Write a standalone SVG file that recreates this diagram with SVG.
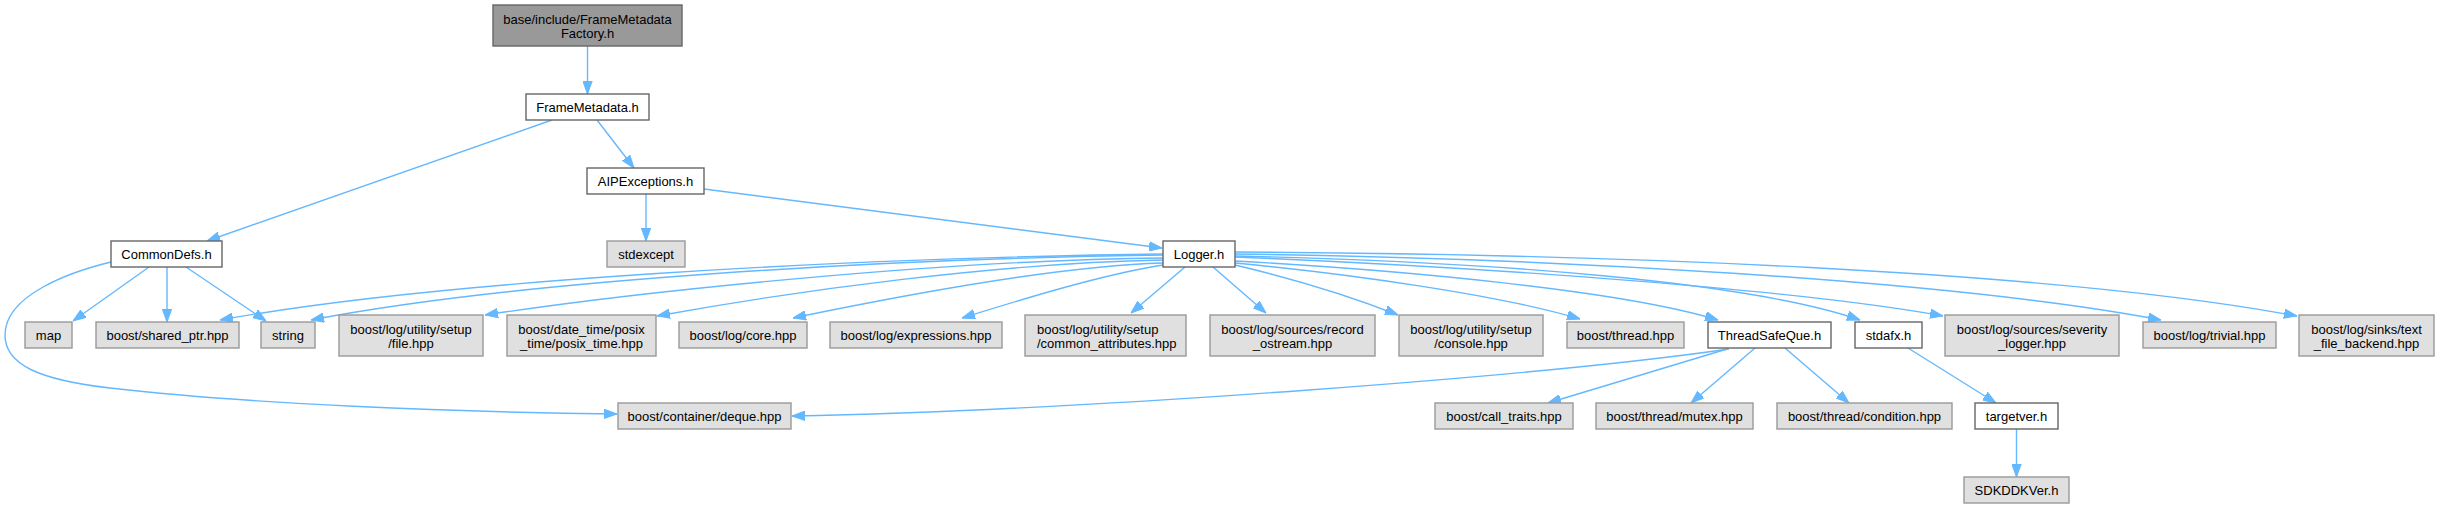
<svg xmlns="http://www.w3.org/2000/svg" width="2440" height="508" viewBox="0 0 2440 508">
<style>
rect{stroke-width:1.4}
.g rect{fill:#e0e0e0;stroke:#999999}
.w rect{fill:#ffffff;stroke:#666666}
.r rect{fill:#999999;stroke:#666666}
text{font-family:"Liberation Sans",Arial,sans-serif;font-size:13px;fill:#000;text-anchor:middle}
text.s{text-anchor:start}
#edges path{fill:none;stroke:#63b8ff;stroke-width:1.4;marker-end:url(#ah)}
</style>
<defs>
<marker id="ah" markerUnits="userSpaceOnUse" viewBox="0 0 13 10" refX="13" refY="5" markerWidth="13" markerHeight="10" orient="auto">
<path d="M0,0.3 L13,5 L0,9.7 z" fill="#63b8ff" stroke="#63b8ff" stroke-width="1"/>
</marker>
</defs>
<rect width="2440" height="508" fill="#ffffff"/>
<g id="edges">
<path d="M587.5,46 L587.5,94"/>
<path d="M597,120 L634,168"/>
<path d="M552,120 L207,241"/>
<path d="M646,194 L646,241"/>
<path d="M704,189 L1162,248"/>
<path d="M149,267 L73,321"/>
<path d="M167,267 L167,322"/>
<path d="M186,267 L266,321"/>
<path d="M111,262 C70,272 5,295 5,335 C5,365 40,380 110,388 C250,404 450,412 617,414"/>
<path d="M1163,254 C850,258 440,280 220,320"/>
<path d="M1163,255 C880,259 520,280 311,320"/>
<path d="M1163,258 C950,260 650,290 485,315"/>
<path d="M1163,260 C1000,263 800,290 657,316"/>
<path d="M1163,263 C1050,266 880,300 793,318"/>
<path d="M1163,265 C1100,275 1020,300 962,318"/>
<path d="M1185,267 L1131,313"/>
<path d="M1213,267 L1266,313"/>
<path d="M1235,265 C1290,278 1350,296 1398,315"/>
<path d="M1235,263 C1350,274 1500,295 1580,319"/>
<path d="M1235,261 C1400,270 1620,290 1718,320"/>
<path d="M1235,256 C1500,262 1750,282 1860,320"/>
<path d="M1235,257 C1500,268 1800,290 1943,316"/>
<path d="M1235,254 C1550,258 1950,280 2161,320"/>
<path d="M1235,252 C1600,254 2050,270 2297,316"/>
<path d="M1729,349 C1550,375 1100,410 792,416"/>
<path d="M1727,349 L1548,403"/>
<path d="M1755,348 L1691,403"/>
<path d="M1785,348 L1849,403"/>
<path d="M1908,348 L1996,403"/>
<path d="M2016.5,429 L2016.5,477"/>
</g>
<g id="n_root" class="r"><rect x="493" y="5" width="189" height="41"/><text x="587.5" y="23.5">base/include/FrameMetadata</text><text x="587.5" y="37.8">Factory.h</text></g>
<g id="n_framemetadata" class="w"><rect x="526" y="94" width="123" height="26"/><text x="587.5" y="111.5">FrameMetadata.h</text></g>
<g id="n_aipexceptions" class="w"><rect x="587" y="168" width="117" height="26"/><text x="645.5" y="185.5">AIPExceptions.h</text></g>
<g id="n_commondefs" class="w"><rect x="111" y="241" width="111" height="26"/><text x="166.5" y="258.5">CommonDefs.h</text></g>
<g id="n_stdexcept" class="g"><rect x="607" y="241" width="78" height="26"/><text x="646" y="258.5">stdexcept</text></g>
<g id="n_logger" class="w"><rect x="1163" y="241" width="72" height="26"/><text x="1199" y="258.5">Logger.h</text></g>
<g id="n_map" class="g"><rect x="25" y="322" width="47" height="26"/><text x="48.5" y="339.5">map</text></g>
<g id="n_shared_ptr" class="g"><rect x="96" y="322" width="143" height="26"/><text x="167.5" y="339.5">boost/shared_ptr.hpp</text></g>
<g id="n_string" class="g"><rect x="261" y="322" width="54" height="26"/><text x="288" y="339.5">string</text></g>
<g id="n_file" class="g"><rect x="339" y="315" width="144" height="41"/><text x="411" y="333.5">boost/log/utility/setup</text><text x="411" y="347.8">/file.hpp</text></g>
<g id="n_posix" class="g"><rect x="507" y="315" width="149" height="41"/><text x="581.5" y="333.5">boost/date_time/posix</text><text x="581.5" y="347.8">_time/posix_time.hpp</text></g>
<g id="n_core" class="g"><rect x="679" y="322" width="128" height="26"/><text x="743" y="339.5">boost/log/core.hpp</text></g>
<g id="n_expressions" class="g"><rect x="830" y="322" width="172" height="26"/><text x="916" y="339.5">boost/log/expressions.hpp</text></g>
<g id="n_common_attributes" class="g"><rect x="1025" y="315" width="161" height="41"/><text class="s" x="1037" y="333.5">boost/log/utility/setup</text><text class="s" x="1037" y="347.8">/common_attributes.hpp</text></g>
<g id="n_record_ostream" class="g"><rect x="1210" y="315" width="165" height="41"/><text x="1292.5" y="333.5">boost/log/sources/record</text><text x="1292.5" y="347.8">_ostream.hpp</text></g>
<g id="n_console" class="g"><rect x="1399" y="315" width="144" height="41"/><text x="1471" y="333.5">boost/log/utility/setup</text><text x="1471" y="347.8">/console.hpp</text></g>
<g id="n_thread" class="g"><rect x="1567" y="322" width="117" height="26"/><text x="1625.5" y="339.5">boost/thread.hpp</text></g>
<g id="n_threadsafeque" class="w"><rect x="1708" y="322" width="123" height="26"/><text x="1769.5" y="339.5">ThreadSafeQue.h</text></g>
<g id="n_stdafx" class="w"><rect x="1855" y="322" width="67" height="26"/><text x="1888.5" y="339.5">stdafx.h</text></g>
<g id="n_severity_logger" class="g"><rect x="1945" y="315" width="174" height="41"/><text x="2032" y="333.5">boost/log/sources/severity</text><text x="2032" y="347.8">_logger.hpp</text></g>
<g id="n_trivial" class="g"><rect x="2143" y="322" width="133" height="26"/><text x="2209.5" y="339.5">boost/log/trivial.hpp</text></g>
<g id="n_text_file_backend" class="g"><rect x="2299" y="315" width="135" height="41"/><text x="2366.5" y="333.5">boost/log/sinks/text</text><text x="2366.5" y="347.8">_file_backend.hpp</text></g>
<g id="n_deque" class="g"><rect x="618" y="403" width="173" height="26"/><text x="704.5" y="420.5">boost/container/deque.hpp</text></g>
<g id="n_call_traits" class="g"><rect x="1435" y="403" width="138" height="26"/><text x="1504" y="420.5">boost/call_traits.hpp</text></g>
<g id="n_mutex" class="g"><rect x="1596" y="403" width="157" height="26"/><text x="1674.5" y="420.5">boost/thread/mutex.hpp</text></g>
<g id="n_condition" class="g"><rect x="1777" y="403" width="175" height="26"/><text x="1864.5" y="420.5">boost/thread/condition.hpp</text></g>
<g id="n_targetver" class="w"><rect x="1975" y="403" width="83" height="26"/><text x="2016.5" y="420.5">targetver.h</text></g>
<g id="n_sdkddkver" class="g"><rect x="1964" y="477" width="105" height="26"/><text x="2016.5" y="494.5">SDKDDKVer.h</text></g>
</svg>
